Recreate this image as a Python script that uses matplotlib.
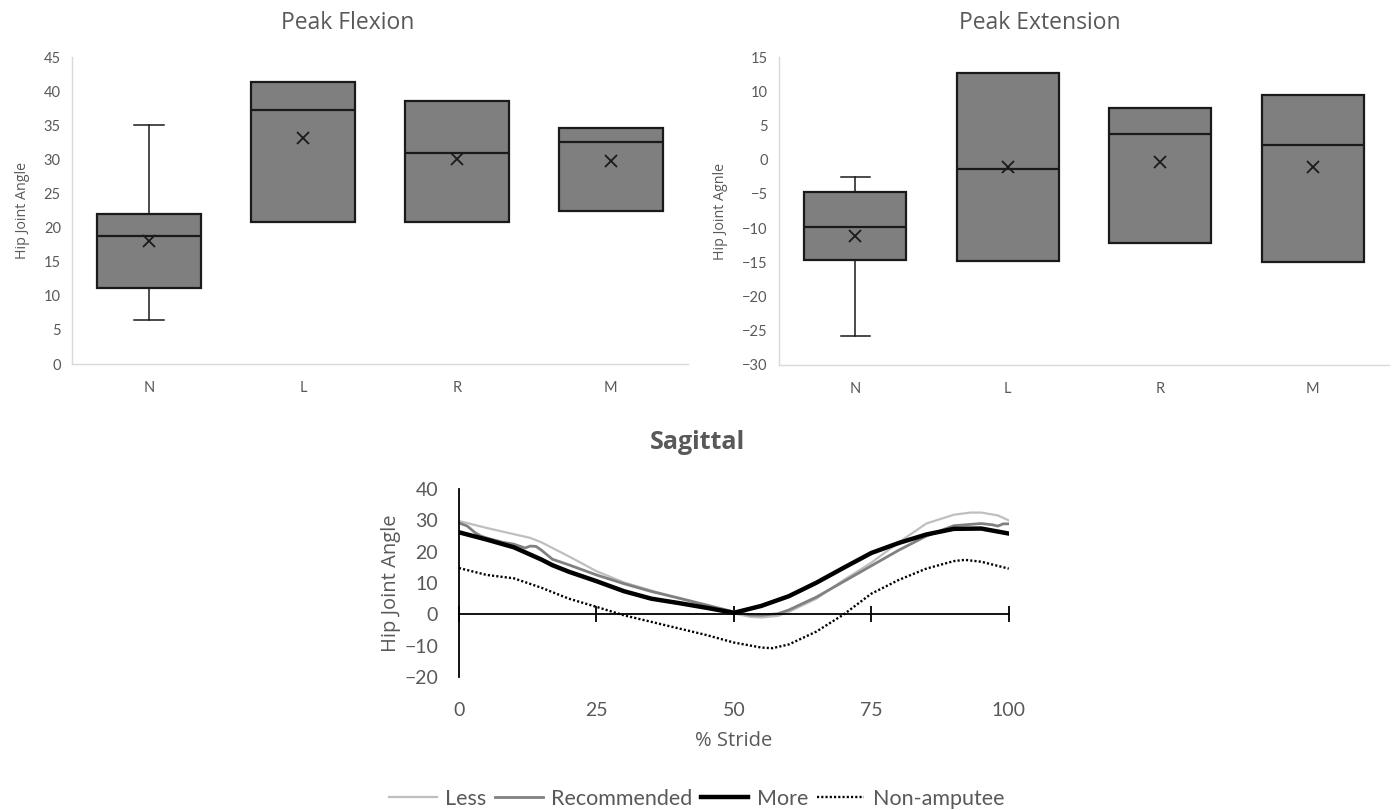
import matplotlib
matplotlib.use("Agg")
import matplotlib.pyplot as plt
import numpy as np

# ---------------- data ----------------
categories = ["N", "L", "R", "M"]

# Peak Flexion box stats
flex_whislo = [6.5, 20.8, 20.8, 22.5]
flex_q1     = [11.1, 20.8, 20.8, 22.5]
flex_med    = [18.7, 37.3, 31.0, 32.5]
flex_q3     = [22.0, 41.3, 38.5, 34.6]
flex_whishi = [35.0, 41.3, 38.5, 34.6]
flex_mean   = [18.0, 33.1, 30.0, 29.7]

# Peak Extension box stats
ext_whislo = [-25.7, -14.8, -12.2, -15.0]
ext_q1     = [-14.6, -14.8, -12.2, -15.0]
ext_med    = [-9.8, -1.4, 3.8, 2.2]
ext_q3     = [-4.7, 12.7, 7.5, 9.5]
ext_whishi = [-2.5, 12.7, 7.5, 9.5]
ext_mean   = [-11.1, -1.1, -0.3, -1.1]

# Sagittal curves (% stride vs hip joint angle)
less_x = [0, 5, 10, 13, 15, 20, 25, 30, 35, 40, 45, 50, 53, 55, 58, 60, 65, 70, 75, 80, 85, 90, 93, 95, 98, 100]
less_y = [29.8, 27.6, 25.6, 24.4, 23.0, 18.5, 13.8, 10.2, 7.6, 5.1, 2.8, 0.3, -0.8, -1.0, -0.5, 0.8, 5.0, 11.0, 16.5, 23.0, 29.0, 31.8, 32.5, 32.5, 31.6, 30.0]

rec_x = [0, 1.5, 3, 4, 5, 8, 10, 12, 13, 14, 15, 17, 20, 25, 30, 35, 40, 45, 50, 53, 55, 58, 60, 65, 70, 75, 80, 85, 90, 95, 97, 98, 99, 100]
rec_y = [29.2, 28.2, 26.0, 25.0, 24.4, 23.0, 22.4, 21.2, 21.8, 21.7, 20.5, 17.6, 15.8, 12.6, 9.8, 7.3, 5.2, 3.0, 0.8, -0.2, -0.3, 0.2, 1.4, 5.5, 10.5, 15.5, 20.5, 25.0, 28.3, 29.0, 28.6, 28.2, 28.9, 28.9]

more_x = [0, 5, 10, 15, 17, 20, 25, 30, 35, 40, 45, 50, 55, 60, 65, 70, 75, 80, 85, 90, 95, 100]
more_y = [26.2, 23.9, 21.4, 17.5, 15.7, 13.6, 10.6, 7.4, 5.0, 3.6, 2.1, 0.5, 2.7, 5.8, 10.1, 14.9, 19.6, 22.8, 25.5, 27.3, 27.4, 25.8]

nonamp_x = [0, 5, 10, 15, 20, 25, 30, 35, 40, 45, 50, 55, 57, 60, 65, 70, 75, 80, 85, 90, 92, 95, 100]
nonamp_y = [14.8, 12.6, 11.5, 8.5, 5.0, 2.4, -0.3, -2.4, -4.5, -6.6, -9.0, -10.6, -10.8, -9.6, -5.5, 0.0, 6.6, 11.0, 14.6, 17.0, 17.4, 16.8, 14.6]

stride_ticks = [0, 25, 50, 75, 100]

# ---------------- style ----------------
TXT = "#595959"
SPINE = "#d9d9d9"
plt.rcParams["font.family"] = ["Lato", "DejaVu Sans"]
SANS = ["Open Sans", "DejaVu Sans"]

fig = plt.figure(figsize=(13.92, 8.1), dpi=100)


def box_panel(rect, whislo, q1, med, q3, whishi, mean, ylim, ystep, ylabel, title, title_x):
    ax = fig.add_axes(rect)
    stats = []
    for i, c in enumerate(categories):
        stats.append(dict(label=c, whislo=whislo[i], q1=q1[i], med=med[i], q3=q3[i],
                          whishi=whishi[i], mean=mean[i], fliers=[]))
    ax.bxp(stats, positions=range(len(categories)), widths=0.67, capwidths=0.19,
           showmeans=True, patch_artist=True,
           boxprops=dict(facecolor="#7f7f7f", edgecolor="#1a1a1a", linewidth=1.6),
           medianprops=dict(color="#1a1a1a", linewidth=1.6),
           whiskerprops=dict(color="#1a1a1a", linewidth=1.1),
           capprops=dict(color="#1a1a1a", linewidth=1.1),
           meanprops=dict(marker="x", markeredgecolor="#1a1a1a", markersize=9,
                          markeredgewidth=1.3))
    ax.set_xlim(-0.5, len(categories) - 0.5)
    ax.set_ylim(*ylim)
    ax.set_yticks(np.arange(ylim[0], ylim[1] + 0.1, ystep))
    for s in ["top", "right"]:
        ax.spines[s].set_visible(False)
    for s in ["left", "bottom"]:
        ax.spines[s].set_color(SPINE)
        ax.spines[s].set_linewidth(1.0)
    ax.tick_params(length=0, labelsize=10.5, labelcolor=TXT)
    ax.tick_params(axis="x", pad=12)
    ax.tick_params(axis="y", pad=8)
    ax.set_ylabel(ylabel, fontsize=10.3, color=TXT, family=SANS, labelpad=10)
    fig.text(title_x, 0.972, title, ha="center", va="center", fontsize=16.5, color=TXT,
             family=SANS)
    return ax


box_panel([0.0517, 0.5506, 0.4425, 0.379], flex_whislo, flex_q1, flex_med, flex_q3,
          flex_whishi, flex_mean, (0, 45), 5, "Hip Joint Angle", "Peak Flexion", 0.25)
box_panel([0.5595, 0.5494, 0.4385, 0.380], ext_whislo, ext_q1, ext_med, ext_q3,
          ext_whishi, ext_mean, (-30, 15), 5, "Hip Joint Agnle", "Peak Extension", 0.747)

# ---------------- Sagittal ----------------
ax = fig.add_axes([0.3297, 0.1642, 0.395, 0.232])
ax.plot(less_x, less_y, color="#bfbfbf", lw=1.6, label="Less")
ax.plot(rec_x, rec_y, color="#808080", lw=2.0, label="Recommended")
ax.plot(more_x, more_y, color="black", lw=3.2, label="More")
ax.plot(nonamp_x, nonamp_y, color="black", lw=1.7, linestyle=(0, (0.9, 0.9)), label="Non-amputee")
ax.set_xlim(0, 100)
ax.set_ylim(-20, 40)
ax.set_yticks(np.arange(-20, 41, 10))
for s in ["top", "right"]:
    ax.spines[s].set_visible(False)
ax.spines["left"].set_color("black")
ax.spines["left"].set_linewidth(1.3)
ax.spines["bottom"].set_position(("data", 0))
ax.spines["bottom"].set_color("black")
ax.spines["bottom"].set_linewidth(1.3)
ax.set_xticks(stride_ticks)
ax.tick_params(axis="x", direction="inout", length=12, width=1.3, labelbottom=False)
ax.tick_params(axis="y", length=0, labelsize=14, labelcolor=TXT, pad=15)
ax.set_ylabel("Hip Joint Angle", fontsize=14.5, color=TXT, family=SANS, labelpad=2)

sec = ax.secondary_xaxis("bottom")
sec.spines["bottom"].set_visible(False)
sec.set_xticks(stride_ticks)
sec.tick_params(length=0, labelsize=14, labelcolor=TXT, pad=18)
sec.set_xlabel("% Stride", fontsize=14.5, color=TXT, family=SANS, labelpad=9)

fig.text(0.5007, 0.454, "Sagittal", ha="center", va="center", fontsize=18, fontweight="bold",
         color=TXT, family=SANS)

leg = fig.legend(*ax.get_legend_handles_labels(), loc="center", bbox_to_anchor=(0.5007, 0.0136),
                 ncol=4, frameon=False, fontsize=15.5, handlelength=2.2, handletextpad=0.4,
                 columnspacing=0.4, borderpad=0)
for t in leg.get_texts():
    t.set_color(TXT)

fig.savefig("out.png", dpi=100)
